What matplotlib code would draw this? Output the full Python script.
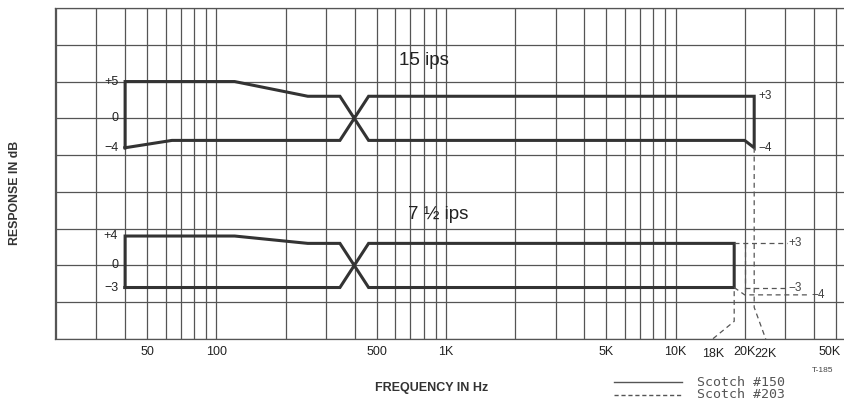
import matplotlib
matplotlib.use("Agg")
import matplotlib.pyplot as plt
import matplotlib.transforms as mtransforms
from matplotlib.lines import Line2D

plt.rcParams['font.family'] = ['Liberation Sans', 'DejaVu Sans']

# frequency grid of the chart paper (Hz)
grid_freqs = [20, 30, 40, 50, 60, 70, 80, 90,
              100, 200, 300, 400, 500, 600, 700, 800, 900,
              1000, 2000, 3000, 4000, 5000, 6000, 7000, 8000, 9000,
              10000, 20000, 30000, 40000, 50000]
tick_freqs = [50, 100, 500, 1000, 5000, 10000, 20000, 50000]
tick_labels = ['50', '100', '500', '1K', '5K', '10K', '20K', '50K']

# 15 ips tolerance window, Scotch #150 (dB, drawn 20 dB higher on the sheet)
fast_offset = 20
fast_f = [40, 40, 120, 250, 345, 460, 20000, 22000, 22000, 460, 345, 64, 40]
fast_db = [-4, 5, 5, 3, 3, -3, -3, -4, 3, 3, -3, -3, -4]
fast_left = [(5, '+5'), (0, '0'), (-4, '\u22124')]
fast_right = [(3, '+3'), (-4, '\u22124')]

# 7 1/2 ips tolerance window, Scotch #150
slow_f = [40, 40, 120, 250, 345, 460, 18000, 18000, 460, 345, 40]
slow_db = [-3, 4, 4, 3, 3, -3, -3, 3, 3, -3, -3]
slow_left = [(4, '+4'), (0, '0'), (-3, '\u22123')]

# 7 1/2 ips, Scotch #203 extension (dashed)
d203_top_f, d203_top_db = [18000, 30500], [3, 3]
d203_vert_f, d203_vert_db = [20000, 20000], [3, -4]
d203_m3_f, d203_m3_db = [20000, 30500], [-3, -3]
d203_m4_f, d203_m4_db = [18000, 20000, 38500], [-3, -4, -4]
d203_labels = [(30500, 3, '+3'), (30500, -3, '\u22123'), (38500, -4, '\u22124')]

# leader lines down to the 18K / 22K labels
lead22_f, lead22_db = [22000, 22000, 24700], [16, -5.7, -10]
lead18_f, lead18_db = [18000, 18000, 14500], [-3.5, -7.6, -10]

ink = '#333333'
gridc = '#555555'

fig = plt.figure(figsize=(8.45, 4.03), dpi=100)
ax = fig.add_axes([55 / 845, 64 / 403, 790 / 845, 331 / 403])
ax.set_xscale('log')
ax.set_xlim(19.8, 54700)
ax.set_ylim(-10, 35)

# chart paper
ax.set_xticks(grid_freqs, minor=True)
ax.set_xticks(tick_freqs)
ax.set_xticklabels(tick_labels, fontsize=9, color='#222222')
ax.set_xticklabels([], minor=True)
ax.set_yticks(range(-10, 36, 5))
ax.set_yticklabels([])
ax.tick_params(which='both', length=0, pad=5)
ax.grid(which='both', color=gridc, lw=0.9)
for s in ['left', 'top', 'bottom']:
    ax.spines[s].set_color(gridc)
    ax.spines[s].set_linewidth(0.9)
ax.spines['right'].set_visible(False)

# last label sits at the paper edge; nudge it in so it stays readable
last = ax.get_xticklabels()[-1]
last.set_transform(last.get_transform() + mtransforms.ScaledTranslation(-5 / 72, 0, fig.dpi_scale_trans))

# 15 ips
ax.plot(fast_f, [v + fast_offset for v in fast_db], color=ink, lw=2.2,
        solid_joinstyle='miter')
for v, t in fast_left:
    ax.annotate(t, (40, v + fast_offset), xytext=(-5, 0), textcoords='offset points',
                ha='right', va='center', fontsize=9, color='#222222')
for v, t in fast_right:
    ax.annotate(t, (22000, v + fast_offset), xytext=(3, 0), textcoords='offset points',
                ha='left', va='center', fontsize=8.5, color='#333333')
ax.text(800, 27.9, '15 ips', ha='center', va='center', fontsize=13.5, color='#222222')

# 7 1/2 ips
ax.plot(slow_f, slow_db, color=ink, lw=2.2, solid_joinstyle='miter')
for v, t in slow_left:
    ax.annotate(t, (40, v), xytext=(-5, 0), textcoords='offset points',
                ha='right', va='center', fontsize=9, color='#222222')
ax.text(920, 6.9, '7 \u00bd ips', ha='center', va='center', fontsize=13.5, color='#222222')

dash = dict(color='#555555', lw=0.9, ls=(0, (4, 3)))
ax.plot(d203_top_f, d203_top_db, **dash)
ax.plot(d203_vert_f, d203_vert_db, **dash)
ax.plot(d203_m3_f, d203_m3_db, **dash)
ax.plot(d203_m4_f, d203_m4_db, **dash)
for f, v, t in d203_labels:
    ax.annotate(t, (f, v), xytext=(1, 0), textcoords='offset points',
                ha='left', va='center', fontsize=8.5, color='#444444')

ax.plot(lead22_f, lead22_db, clip_on=False, **dash)
ax.plot(lead18_f, lead18_db, clip_on=False, **dash)
ax.annotate('22K', (lead22_f[-1], -10), xytext=(0, -11), textcoords='offset points',
            ha='center', va='center', fontsize=9, color='#222222')
ax.annotate('18K', (lead18_f[-1], -10), xytext=(0, -11), textcoords='offset points',
            ha='center', va='center', fontsize=9, color='#222222')

# axis titles
fig.text(15 / 845, 1 - 193 / 403, 'RESPONSE IN dB', rotation=90, ha='center', va='center',
         fontsize=8.8, fontweight='bold', color='#333333')
fig.text(432 / 845, 1 - 388 / 403, 'FREQUENCY IN Hz', ha='center', va='center',
         fontsize=9, fontweight='bold', color='#333333')

# legend
fig.add_artist(Line2D([614 / 845, 682 / 845], [1 - 382 / 403] * 2, color='#555555', lw=1))
fig.add_artist(Line2D([614 / 845, 682 / 845], [1 - 395 / 403] * 2, color='#555555', lw=1,
                      ls=(0, (3, 2))))
fig.text(697 / 845, 1 - 382 / 403, 'Scotch #150', ha='left', va='center',
         fontsize=9.5, family='DejaVu Sans Mono', color='#555555')
fig.text(697 / 845, 1 - 395 / 403, 'Scotch #203', ha='left', va='center',
         fontsize=9.5, family='DejaVu Sans Mono', color='#555555')
fig.text(823 / 845, 1 - 371 / 403, 'T-185', ha='center', va='center',
         fontsize=6, color='#444444')

fig.savefig('out.png', dpi=100)
